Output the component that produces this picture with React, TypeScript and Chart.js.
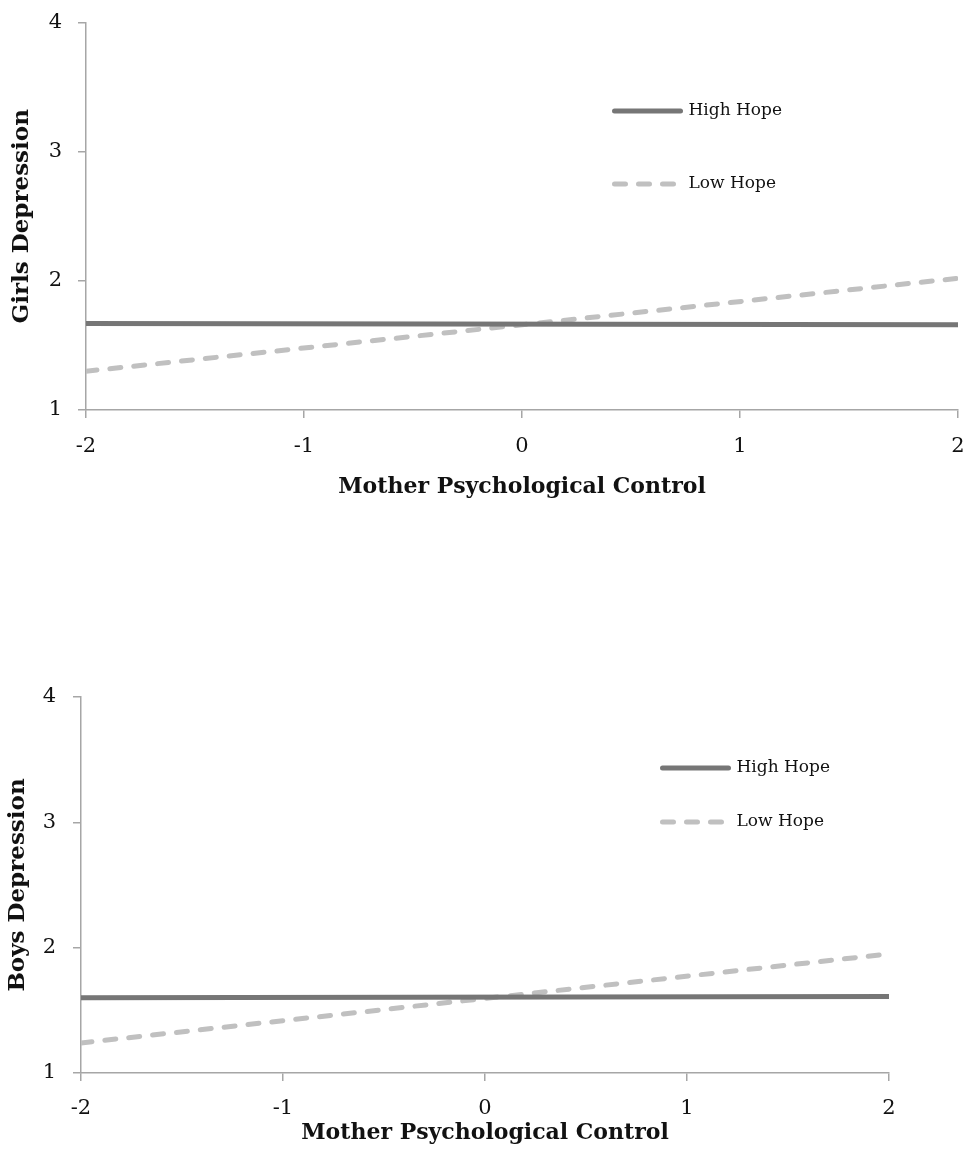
import React, { useEffect, useRef } from "react";
import { Chart, registerables } from "chart.js";

Chart.register(...registerables);

// ---- data ----
const xValues = [-2, 2];
const girlsHighHope = [1.67, 1.66];
const girlsLowHope = [1.3, 2.02];
const boysHighHope = [1.6, 1.61];
const boysLowHope = [1.24, 1.95];
const seriesLabels = ["High Hope", "Low Hope"];
const xTitle = "Mother Psychological Control";
const girlsTitle = "Girls Depression";
const boysTitle = "Boys Depression";
const xMin = -2;
const xMax = 2;
const yMin = 1;
const yMax = 4;

const SERIF = "'DejaVu Serif', 'Liberation Serif', serif";
const AXIS_COLOR = "#a6a6a6";
const HIGH_COLOR = "#767676";
const LOW_COLOR = "#c0c0c0";

const inlineLegend = {
  id: "inlineLegend",
  afterDraw(chart: any, _args: any, opts: any) {
    const ctx = chart.ctx;
    chart.data.datasets.forEach((ds: any, i: number) => {
      const y = opts.y + i * opts.rowGap;
      ctx.save();
      ctx.strokeStyle = ds.borderColor;
      ctx.lineWidth = ds.borderWidth;
      ctx.lineCap = "round";
      ctx.setLineDash(ds.borderDash || []);
      ctx.beginPath();
      ctx.moveTo(opts.x, y);
      ctx.lineTo(opts.x + opts.lineLen, y);
      ctx.stroke();
      ctx.setLineDash([]);
      ctx.fillStyle = "#111";
      ctx.font = opts.font;
      ctx.textBaseline = "middle";
      ctx.textAlign = "left";
      ctx.fillText(ds.label, opts.x + opts.lineLen + opts.gap, y);
      ctx.restore();
    });
  },
};

type PanelProps = {
  high: number[];
  low: number[];
  yTitle: string;
  width: number;
  height: number;
  yAxisWidth: number;
  xAxisHeight: number;
  padTop: number;
  padRight: number;
  yTitlePad: number;
  yTickPad: number;
  xTickPad: number;
  xTitlePad: number;
  legendX: number;
  legendY: number;
  legendGap: number;
};

function Panel(p: PanelProps) {
  const ref = useRef<HTMLCanvasElement>(null);
  useEffect(() => {
    if (!ref.current) return;
    const chart = new Chart(ref.current, {
      type: "line",
      data: {
        datasets: [
          {
            label: seriesLabels[0],
            data: xValues.map((x, i) => ({ x, y: p.high[i] })),
            borderColor: HIGH_COLOR,
            borderWidth: 5,
            borderCapStyle: "round",
            pointRadius: 0,
            tension: 0,
          },
          {
            label: seriesLabels[1],
            data: xValues.map((x, i) => ({ x, y: p.low[i] })),
            borderColor: LOW_COLOR,
            borderWidth: 5,
            borderCapStyle: "round",
            borderDash: [11, 13],
            pointRadius: 0,
            tension: 0,
          },
        ],
      },
      options: {
        responsive: false,
        animation: false,
        devicePixelRatio: 1,
        layout: { padding: { top: p.padTop, right: p.padRight, left: 0, bottom: 0 } },
        plugins: {
          legend: { display: false },
          tooltip: { enabled: false },
          inlineLegend: {
            x: p.legendX,
            y: p.legendY,
            rowGap: p.legendGap,
            lineLen: 66,
            gap: 8,
            font: `17px ${SERIF}`,
          },
        } as any,
        scales: {
          x: {
            type: "linear",
            min: xMin,
            max: xMax,
            afterFit: (s: any) => {
              s.height = p.xAxisHeight;
            },
            ticks: { stepSize: 1, color: "#111", font: { family: SERIF, size: 21 }, padding: p.xTickPad },
            grid: { drawOnChartArea: false, drawTicks: true, tickLength: 8, color: AXIS_COLOR, lineWidth: 1.5 },
            border: { display: true, color: AXIS_COLOR, width: 1.5 },
            title: {
              display: true,
              text: xTitle,
              color: "#111",
              font: { family: SERIF, size: 22, weight: "bold" },
              padding: { top: 0, bottom: p.xTitlePad },
            },
          },
          y: {
            type: "linear",
            min: yMin,
            max: yMax,
            afterFit: (s: any) => {
              s.width = p.yAxisWidth;
            },
            ticks: { stepSize: 1, color: "#111", font: { family: SERIF, size: 21 }, padding: p.yTickPad },
            grid: { drawOnChartArea: false, drawTicks: true, tickLength: 8, color: AXIS_COLOR, lineWidth: 1.5 },
            border: { display: true, color: AXIS_COLOR, width: 1.5 },
            title: {
              display: true,
              text: p.yTitle,
              color: "#111",
              font: { family: SERIF, size: 23, weight: "bold" },
              padding: { top: p.yTitlePad, bottom: 0 },
            },
          },
        },
      },
      plugins: [inlineLegend as any],
    });
    return () => chart.destroy();
  }, []);
  return <canvas ref={ref} width={p.width} height={p.height} style={{ display: "block" }} />;
}

export default function App() {
  return (
    <div style={{ position: "absolute", left: 0, top: 0, width: 968, height: 1164, background: "#fff", overflow: "hidden" }}>
      <div style={{ position: "absolute", left: 0, top: -6 }}>
        <Panel
          high={girlsHighHope}
          low={girlsLowHope}
          yTitle={girlsTitle}
          width={1000}
          height={526}
          yAxisWidth={86}
          xAxisHeight={110}
          padTop={23}
          padRight={42}
          yTitlePad={8}
          yTickPad={16}
          xTickPad={16}
          xTitlePad={20}
          legendX={614.5}
          legendY={117}
          legendGap={73}
        />
      </div>
      <div style={{ position: "absolute", left: 0, top: 580 }}>
        <Panel
          high={boysHighHope}
          low={boysLowHope}
          yTitle={boysTitle}
          width={968}
          height={584}
          yAxisWidth={81}
          xAxisHeight={91}
          padTop={117}
          padRight={79}
          yTitlePad={4}
          yTickPad={17}
          xTickPad={15}
          xTitlePad={18}
          legendX={662.5}
          legendY={188}
          legendGap={54}
        />
      </div>
    </div>
  );
}
